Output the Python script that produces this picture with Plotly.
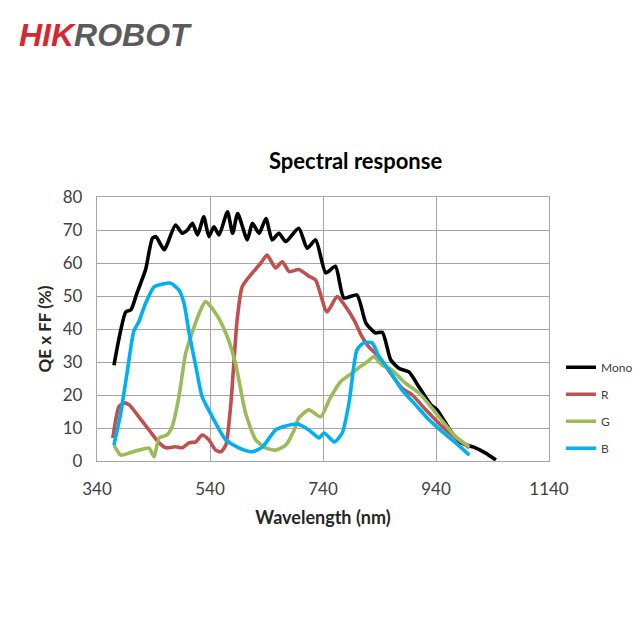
import plotly.graph_objects as go

# wavelength (nm) / QE x FF (%)
mono_nm = [370, 380, 391, 400, 411, 426, 438, 444, 459, 465, 479, 491, 500, 509, 518,
           529, 538, 547, 556, 571, 580, 589, 606, 615, 627, 639, 650, 662, 674, 697,
           712, 727, 745, 762, 777, 800, 816, 833, 845, 860, 875, 892, 910, 931, 942,
           968, 984, 1007, 1028, 1046]
mono_qe = [29, 38, 45.2, 45.8, 51, 58, 67.5, 68, 64, 66, 71.5, 69, 70, 72, 68.5,
           74, 68, 71, 68.5, 75.5, 69, 75, 67, 72, 69, 73.5, 67, 69, 66.5, 70.5,
           64.5, 67, 57, 59, 49.4, 50.3, 41.8, 38.8, 39, 30.6, 28, 27, 22.4, 17, 15.5,
           8.5, 5.5, 4.2, 2.4, 0.3]

r_nm = [368, 379, 388, 397, 414, 432, 450, 462, 479, 491, 503, 515, 526, 538, 550,
        559, 568, 577, 588, 597, 615, 630, 641, 656, 668, 680, 697, 715, 727, 747,
        765, 780, 795, 809, 821, 839, 860, 880, 898, 922, 951, 975, 999]
r_qe = [7, 16.5, 17.6, 17, 13.4, 9.4, 5.5, 4, 4.3, 4, 5.5, 5.8, 7.9, 6.4, 3.3,
        2.8, 4.8, 17.6, 42.7, 52.8, 57, 60, 62.4, 58.5, 60.4, 57.4, 58, 56, 54.8, 45.2,
        49.8, 46.8, 42.7, 37.7, 34.6, 31.6, 26.5, 22, 20, 15.5, 10.4, 7, 4]

g_nm = [370, 382, 397, 414, 432, 441, 450, 464, 473, 485, 497, 509, 521, 532, 550,
        568, 585, 603, 621, 639, 656, 674, 689, 697, 715, 736, 751, 771, 791, 806,
        818, 830, 845, 862, 886, 910, 933, 957, 975, 999]
g_qe = [4.8, 1.8, 2.4, 3.3, 3.9, 1.3, 7, 7.9, 10.4, 19.5, 32.7, 39.2, 44.8, 48.3, 44.8,
        38.8, 29.7, 14.5, 6.4, 3.9, 3.3, 4.8, 9.4, 13, 15.5, 13.4, 18.5, 24, 26.6, 28.6,
        30, 31.6, 29, 27.6, 23.6, 20.6, 16, 10.9, 7.4, 4.3]

b_nm = [370, 382, 394, 405, 414, 426, 441, 456, 470, 485, 494, 503, 515, 526, 544,
        568, 592, 615, 633, 656, 674, 694, 715, 733, 742, 760, 774, 786, 800, 812,
        827, 839, 857, 880, 904, 928, 951, 975, 999]
b_qe = [4.8, 14.5, 27.6, 39.2, 42.2, 47.8, 52.8, 53.6, 53.9, 51.8, 47.8, 38.8, 28.6, 19.5, 13.4,
        6.4, 3.9, 2.8, 4.3, 9.4, 10.6, 11.2, 9.4, 7, 8.5, 5.8, 8.5, 17.6, 33.6, 35.8,
        35.8, 31.6, 27.6, 21.5, 17, 12.4, 8.9, 5.5, 1.8]

series = [
    ("Mono", mono_nm, mono_qe, "#000000"),
    ("R", r_nm, r_qe, "#c0504d"),
    ("G", g_nm, g_qe, "#9bbb59"),
    ("B", b_nm, b_qe, "#00b0f0"),
]

x_ticks = [340, 540, 740, 940, 1140]
y_ticks = [0, 10, 20, 30, 40, 50, 60, 70, 80]

fig = go.Figure()
for name, xs, ys, color in series:
    fig.add_trace(go.Scatter(
        x=xs, y=ys, name=name, mode="lines", legendgroup=name,
        line=dict(color=color, width=3.6, shape="spline", smoothing=0.6),
    ))

grid = "#a6a6a6"
txt = "#404040"
font = "Lato, 'Open Sans', sans-serif"

# page body adds 8px, margins are compensated for that
fig.update_layout(
    width=640, height=640,
    paper_bgcolor="white", plot_bgcolor="white",
    margin=dict(l=89, r=99, t=189, b=187, autoexpand=False),
    font=dict(family=font, color=txt),
    showlegend=True,
    legend=dict(
        xref="container", x=0.864, y=0.41, xanchor="left", yanchor="top",
        font=dict(size=12, color=txt), traceorder="grouped",
        tracegroupgap=8, itemwidth=30, bgcolor="rgba(0,0,0,0)",
    ),
)
fig.update_xaxes(
    range=[340, 1140], tickvals=x_ticks, ticktext=[str(v) for v in x_ticks],
    showgrid=True, gridcolor=grid, gridwidth=1.3, zeroline=False,
    showline=True, linecolor=grid, linewidth=1.3, mirror=True, automargin=False,
    tickfont=dict(size=17, color=txt), ticklabelstandoff=12,
    title=dict(text="<b>Wavelength (nm)</b>", font=dict(size=18, color="#262626"), standoff=13),
)
fig.update_yaxes(
    range=[0, 80], tickvals=y_ticks,
    showgrid=True, gridcolor=grid, gridwidth=1.3, zeroline=False,
    showline=True, linecolor=grid, linewidth=1.3, mirror=True, automargin=False,
    tickfont=dict(size=17, color=txt), ticklabelstandoff=10,
    title=dict(text="<b>QE x FF (%)</b>", font=dict(size=17, color="#262626"), standoff=6),
)

fig.add_annotation(
    text="<b>Spectral response</b>", xref="paper", yref="paper",
    x=0.571, y=1.14, xanchor="center", yanchor="middle",
    showarrow=False, font=dict(size=22, color="#000000"),
)
fig.add_annotation(
    text="<b><i><span style='color:#d7282f'>HIK</span>ROBOT</i></b>",
    xref="paper", yref="paper", x=-0.178, y=1.614, xanchor="left", yanchor="middle",
    showarrow=False, font=dict(size=32, color="#5b5b5b", family="'Liberation Sans', Arial, sans-serif"),
)

fig.write_html("out.html")
